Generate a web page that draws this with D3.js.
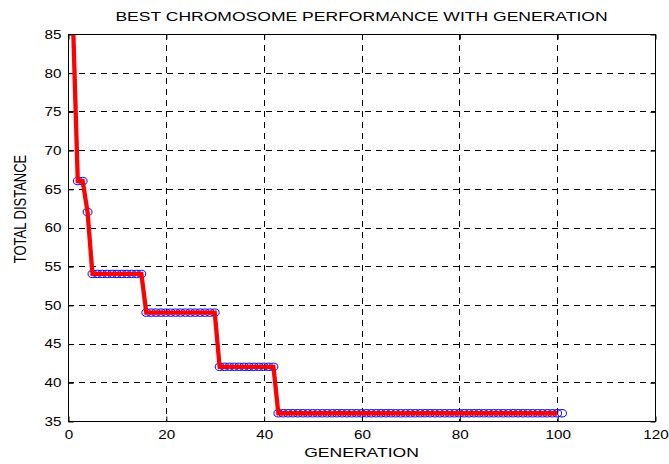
<!DOCTYPE html>
<html><head><meta charset="utf-8">
<script src="https://cdn.jsdelivr.net/npm/d3@7"></script>
<style>body{margin:0;background:#fff}svg{display:block}</style>
</head><body><svg id="c" width="669" height="464"></svg>
<script>
const chartTitle = "BEST CHROMOSOME PERFORMANCE WITH GENERATION";
const xLabel = "GENERATION";
const yLabel = "TOTAL DISTANCE";
const xTicks = [0, 20, 40, 60, 80, 100, 120];
const yTicks = [35, 40, 45, 50, 55, 60, 65, 70, 75, 80, 85];
// best total distance per generation (generation 1..101)
const bestDistance = [
  87, 66, 66, 62,
  54, 54, 54, 54, 54, 54, 54, 54, 54, 54, 54,
  49, 49, 49, 49, 49, 49, 49, 49, 49, 49, 49, 49, 49, 49, 49,
  42, 42, 42, 42, 42, 42, 42, 42, 42, 42, 42, 42,
  36, 36, 36, 36, 36, 36, 36, 36, 36, 36,
  36, 36, 36, 36, 36, 36, 36, 36, 36, 36,
  36, 36, 36, 36, 36, 36, 36, 36, 36, 36,
  36, 36, 36, 36, 36, 36, 36, 36, 36, 36,
  36, 36, 36, 36, 36, 36, 36, 36, 36, 36,
  36, 36, 36, 36, 36, 36, 36, 36, 36
];
const lineLastGeneration = 100;

const W = 669, H = 464;
const M = {left: 68, right: 14, top: 34, bottom: 43};
const SX = 1.27; // horizontal stretch of the text in the reference
const svg = d3.select("#c");

const x = d3.scaleLinear().domain([0, 120]).range([M.left, W - M.right]);
const y = d3.scaleLinear().domain([35, 85]).range([H - M.bottom, M.top]);

const pts = bestDistance.map((d, i) => ({g: i + 1, v: d}));

svg.append("defs").append("clipPath").attr("id", "clip")
  .append("rect").attr("x", M.left).attr("y", M.top)
  .attr("width", W - M.left - M.right).attr("height", H - M.top - M.bottom);

// grid
const grid = svg.append("g").attr("stroke", "#000").attr("stroke-width", 1)
  .attr("stroke-dasharray", "6,5").attr("fill", "none");
xTicks.filter(t => t > 0 && t < 120).forEach(t => {
  const px = Math.round(x(t)) + 0.5;
  grid.append("line").attr("x1", px).attr("x2", px).attr("y1", M.top).attr("y2", H - M.bottom);
});
yTicks.filter(t => t > 35 && t < 85).forEach(t => {
  const py = Math.round(y(t)) + 0.5;
  grid.append("line").attr("x1", M.left).attr("x2", W - M.right).attr("y1", py).attr("y2", py);
});

// axes
function styleAxis(g) {
  g.select(".domain").remove();
  g.selectAll("line").attr("stroke", "#000");
  g.selectAll("text").attr("fill", "#000").attr("font-family", "Liberation Sans, Arial, sans-serif").attr("font-size", 12);
}
const gx = svg.append("g").attr("transform", `translate(0.5,${H - M.bottom + 0.5})`)
  .call(d3.axisBottom(x).tickValues(xTicks).tickSizeInner(-5).tickSizeOuter(0).tickPadding(9).tickFormat(d3.format("d")));
styleAxis(gx);
gx.selectAll("text").attr("transform", `scale(${SX},1)`);

const gxTop = svg.append("g").attr("transform", `translate(0.5,${M.top + 0.5})`)
  .call(d3.axisTop(x).tickValues(xTicks).tickSizeInner(-5).tickSizeOuter(0).tickFormat(""));
styleAxis(gxTop);

const gy = svg.append("g").attr("transform", `translate(${M.left + 0.5},0.5)`)
  .call(d3.axisLeft(y).tickValues(yTicks).tickSizeInner(-5).tickSizeOuter(0).tickFormat(d3.format("d")));
styleAxis(gy);
gy.selectAll("text").attr("x", -7 / SX).attr("transform", `scale(${SX},1)`);

const gyR = svg.append("g").attr("transform", `translate(${W - M.right + 0.5},0.5)`)
  .call(d3.axisRight(y).tickValues(yTicks).tickSizeInner(-5).tickSizeOuter(0).tickFormat(""));
styleAxis(gyR);

// data
const plot = svg.append("g").attr("clip-path", "url(#clip)");
plot.selectAll("ellipse").data(pts.filter(p => p.v <= 85 && p.v >= 35)).join("ellipse")
  .attr("cx", p => x(p.g)).attr("cy", p => y(p.v)).attr("rx", 4.4).attr("ry", 3.7)
  .attr("fill", "none").attr("stroke", "#0000ff").attr("stroke-width", 1);
plot.append("path").datum(pts.filter(p => p.g <= lineLastGeneration))
  .attr("d", d3.line().x(p => x(p.g)).y(p => y(p.v)))
  .attr("fill", "none").attr("stroke", "#ff0000").attr("stroke-width", 4.3).attr("stroke-linejoin", "miter");

// box
svg.append("rect").attr("x", M.left + 0.5).attr("y", M.top + 0.5)
  .attr("width", W - M.left - M.right).attr("height", H - M.top - M.bottom)
  .attr("fill", "none").attr("stroke", "#000").attr("stroke-width", 1);

// texts
function stretchedText(tx, ty, str, size, sx, rot) {
  svg.append("text").attr("transform", `translate(${tx},${ty}) scale(${sx},1)` + (rot ? ` rotate(${rot})` : ""))
    .attr("text-anchor", "middle").attr("font-family", "Liberation Sans, Arial, sans-serif")
    .attr("font-size", size).attr("fill", "#000").text(str);
}
stretchedText((M.left + W - M.right) / 2, 21, chartTitle, 13.5, 1.3);
stretchedText((M.left + W - M.right) / 2, 457, xLabel, 13.5, 1.3);
stretchedText(26, 209, yLabel, 13, SX, -90);
</script></body></html>
